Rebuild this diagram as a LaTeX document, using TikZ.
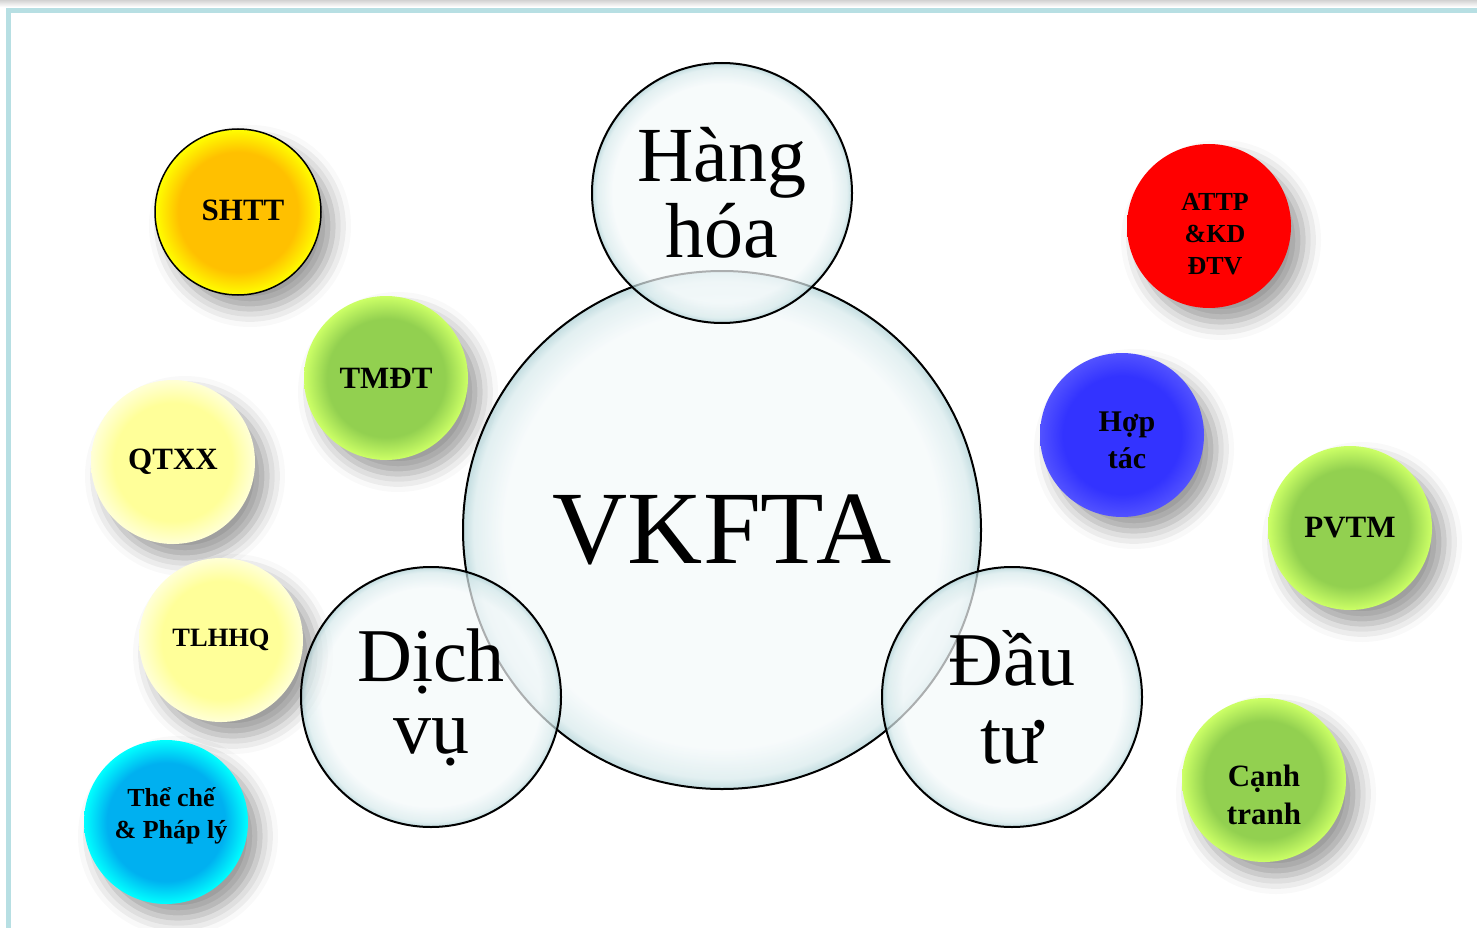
\documentclass[tikz,border=0pt]{standalone}
\usepackage{fontspec}
\setmainfont{Liberation Serif}
\usepackage{xcolor}
\usepackage{tikz}
\usetikzlibrary{shadows.blur}

\definecolor{framecol}{HTML}{B7DFE3}
\definecolor{bubin}{HTML}{F4F9FA}
\definecolor{bubmid}{HTML}{D6E9EB}
\definecolor{bubrim}{HTML}{A9CED3}
\definecolor{orangein}{HTML}{FFC000}
\definecolor{orangeout}{HTML}{FFFF00}
\definecolor{greenin}{HTML}{92D050}
\definecolor{greenout}{HTML}{CCFF66}
\definecolor{lightyin}{HTML}{FFFF99}
\definecolor{lightyout}{HTML}{FFFFD6}
\definecolor{cyanin}{HTML}{00B0F0}
\definecolor{cyanout}{HTML}{00FFFF}
\definecolor{redball}{HTML}{FF0000}
\definecolor{bluein}{HTML}{3333FF}
\definecolor{blueout}{HTML}{5252FF}
\colorlet{ballin}{white}
\colorlet{ballout}{white}

\pgfdeclareradialshading{bubbleshade}{\pgfpointorigin}{color(0bp)=(bubin); color(21bp)=(bubin); color(24bp)=(bubmid); color(25bp)=(bubrim); color(50bp)=(bubrim)}
\pgfdeclareradialshading[ballin,ballout]{ballshade}{\pgfpointorigin}{color(0bp)=(ballin); color(18bp)=(ballin); color(25bp)=(ballout); color(50bp)=(ballout)}

\tikzset{ballcol/.style 2 args={/utils/exec={\colorlet{ballin}{#1}\colorlet{ballout}{#2}}}}

\begin{document}
\begin{tikzpicture}[x=1pt,y=-1pt]
        \tikzstyle{bubble}=[circle, draw=black, line width=2pt, shade, shading=bubbleshade, fill opacity=0.7, text opacity=1, inner sep=0pt, align=center, font=\fontsize{76}{78}\selectfont];
        \tikzstyle{ball}=[circle, inner sep=0pt, minimum size=164pt, shade, shading=ballshade, blur shadow={shadow xshift=12pt, shadow yshift=-14pt, shadow blur radius=18pt, shadow opacity=40}];
        \tikzstyle{balltext}=[align=center, inner sep=0pt, font=\bfseries\fontsize{31}{37}\selectfont];
        \useasboundingbox (0,0) rectangle (1477,928);

        % Frame of the slide
        \shade[top color=gray!35, bottom color=white] (0,0) rectangle (1477,7);
        \draw[framecol, line width=5pt] (8.5,928) -- (8.5,10.5) -- (1477,10.5);

        % Balls on the left
        \node[ball, ballcol={orangein}{orangeout}, draw=black, line width=1.5pt, minimum size=166pt] (shtt) at (238,212) {};
        \node[ball, ballcol={greenin}{greenout}] (tmdt) at (386,378) {};
        \node[ball, ballcol={lightyin}{lightyout}] (qtxx) at (173,462) {};
        \node[ball, ballcol={lightyin}{lightyout}] (tlhhq) at (221,640) {};
        \node[ball, ballcol={cyanin}{cyanout}] (thche) at (166,822) {};

        % Balls on the right
        \node[ball, ballcol={redball}{redball}] (attp) at (1209,226) {};
        \node[ball, ballcol={bluein}{blueout}] (hoptac) at (1122,435) {};
        \node[ball, ballcol={greenin}{greenout}] (pvtm) at (1350,528) {};
        \node[ball, ballcol={greenin}{greenout}] (canhtranh) at (1264,780) {};

        % Labels of the balls
        \node[balltext, xshift=5pt, yshift=2pt] (shtt-t) at (shtt) {SHTT};
        \node[balltext] (tmdt-t) at (tmdt) {TMĐT};
        \node[balltext] (qtxx-t) at (qtxx) {QTXX};
        \node[balltext, font=\bfseries\fontsize{26.5}{32}\selectfont] (tlhhq-t) at (tlhhq) {TLHHQ};
        \node[balltext, font=\bfseries\fontsize{26}{32}\selectfont, xshift=5pt, yshift=6pt] (thche-t) at (thche) {Thể chế\\\& Pháp lý};
        \node[balltext, font=\bfseries\fontsize{26}{32}\selectfont, xshift=6pt, yshift=-8pt] (attp-t) at (attp) {ATTP\\\&KD\\ĐTV};
        \node[balltext, font=\bfseries\fontsize{30}{37}\selectfont, xshift=5pt, yshift=-5pt] (hoptac-t) at (hoptac) {Hợp\\tác};
        \node[balltext] (pvtm-t) at (pvtm) {PVTM};
        \node[balltext, font=\bfseries\fontsize{31}{38}\selectfont, yshift=-15pt] (canhtranh-t) at (canhtranh) {Cạnh\\tranh};

        % The bubbles
        \node[bubble, minimum size=518pt, font=\fontsize{104}{104}\selectfont] (vkfta) at (722,530) {VKFTA};
        \node[bubble, minimum size=260pt, font=\fontsize{78}{76}\selectfont] (hanghoa) at (722,193) {Hàng\\hóa};
        \node[bubble, minimum size=260pt] (dichvu) at (431,697) {\raisebox{-6pt}{Dịch}\\vụ};
        \node[bubble, minimum size=260pt] (dautu) at (1012,697) {Đầu\\tư};
\end{tikzpicture}
\end{document}
